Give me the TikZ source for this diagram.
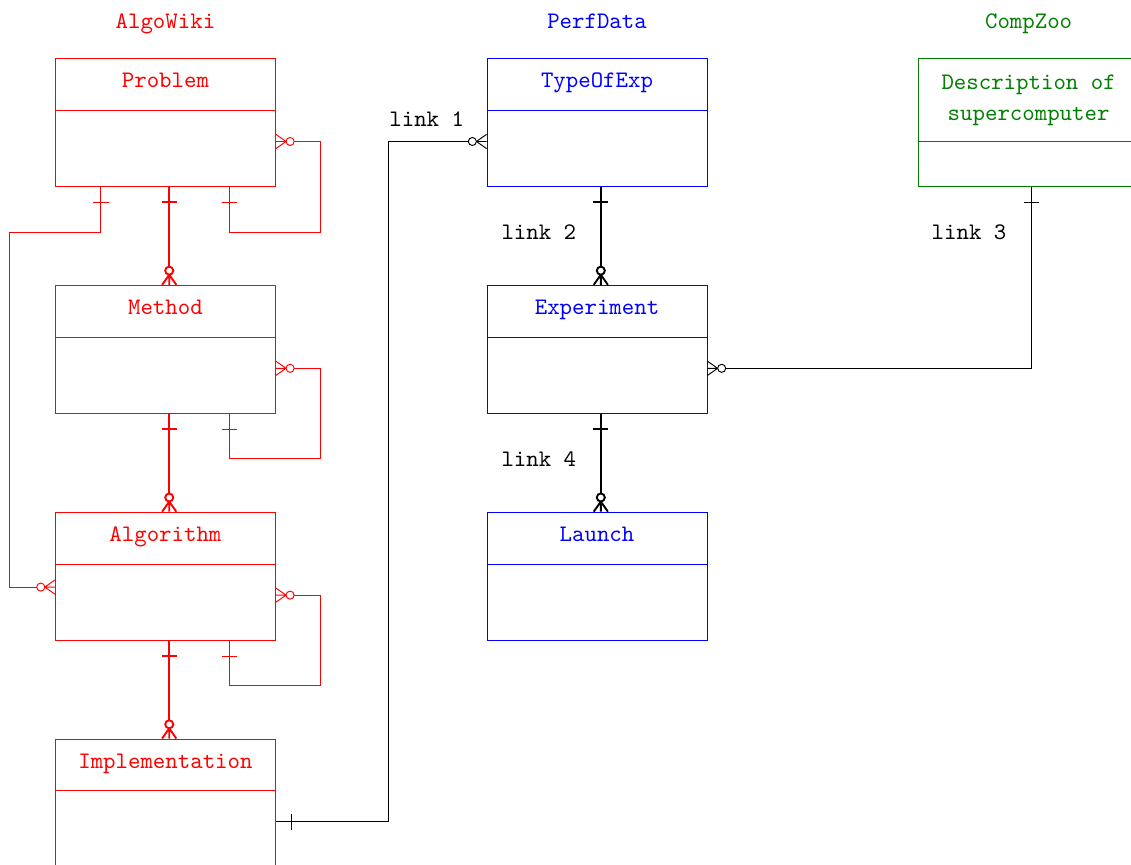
\documentclass[tikz,border=0pt]{standalone}
\usetikzlibrary{positioning}

% ER ends: a bar for "one", a circle and crow's foot for "many"
\pgfdeclarearrow{
  name = erone,
  parameters = {\the\pgflinewidth},
  setup code = {
    \pgfarrowssettipend{0pt}
    \pgfarrowssetbackend{-7pt}
    \pgfarrowssetlineend{0pt}
    \pgfarrowsupperhullpoint{0pt}{3.2pt}
    \pgfarrowsupperhullpoint{-7pt}{3.2pt}
  },
  drawing code = {
    \pgfpathmoveto{\pgfpoint{-6.5pt}{3.2pt}}
    \pgfpathlineto{\pgfpoint{-6.5pt}{-3.2pt}}
    \pgfusepathqstroke
  }
}
\pgfdeclarearrow{
  name = ermany,
  parameters = {\the\pgflinewidth},
  setup code = {
    \pgfarrowssettipend{0pt}
    \pgfarrowssetbackend{-7.7pt}
    \pgfarrowssetlineend{-7.7pt}
    \pgfarrowsupperhullpoint{0pt}{3pt}
    \pgfarrowsupperhullpoint{-7.7pt}{1.7pt}
  },
  drawing code = {
    \pgfpathmoveto{\pgfpoint{0pt}{3pt}}
    \pgfpathlineto{\pgfpoint{-4.3pt}{0pt}}
    \pgfpathlineto{\pgfpoint{0pt}{-3pt}}
    \pgfpathmoveto{\pgfpoint{-4.3pt}{0pt}}
    \pgfpathlineto{\pgfpointorigin}
    \pgfusepathqstroke
    \pgfsetfillcolor{white}
    \pgfpathcircle{\pgfpoint{-6pt}{0pt}}{1.7pt}
    \pgfusepathqfillstroke
  }
}

\tikzset{
  entity/.style={draw, minimum width=92.8pt, minimum height=54pt, inner sep=0pt},
  head/.style={draw, anchor=north, minimum width=92.8pt, inner sep=0pt,
               text height=12.3pt, text depth=9.6pt},
  group/.style={anchor=base},
  linklabel/.style={inner sep=0pt},
}

\begin{document}
\begin{tikzpicture}[node distance=41.3pt and 88.9pt,
                    every node/.style={font=\ttfamily}]
  \useasboundingbox (0,0) rectangle (477.2pt,-364.6pt);

  % AlgoWiki
  \node[entity, red, anchor=north west] (problem) at (23.2pt,-24.5pt) {};
  \node[entity, red, below=of problem] (method) {};
  \node[entity, red, below=of method] (algorithm) {};
  \node[entity, red, below=of algorithm] (implementation) {};
  % PerfData
  \node[entity, blue, right=of problem] (typeofexp) {};
  \node[entity, blue, below=of typeofexp] (experiment) {};
  \node[entity, blue, below=of experiment] (launch) {};
  % CompZoo
  \node[entity, green!50!black, right=of typeofexp] (supercomp) {};

  \foreach \n/\t/\c in {problem/Problem/red, method/Method/red,
                        algorithm/Algorithm/red, implementation/Implementation/red,
                        typeofexp/TypeOfExp/blue, experiment/Experiment/blue,
                        launch/Launch/blue}
    \node[head, \c] (\n head) at (\n.north) {\t};
  \node[draw, anchor=north, minimum width=92.8pt, minimum height=35pt, inner sep=0pt,
        align=center, green!50!black] (supercomphead) at (supercomp.north)
        {Description of\\[1pt]supercomputer};

  \node[group, red] (algowiki) at ([yshift=12.6pt]problem.north) {AlgoWiki};
  \node[group, blue] (perfdata) at ([yshift=12.6pt]typeofexp.north) {PerfData};
  \node[group, green!50!black] (compzoo) at ([yshift=12.6pt]supercomp.north) {CompZoo};

  % links inside AlgoWiki
  \foreach \a/\b in {problem/method, method/algorithm, algorithm/implementation}
    \draw[red, thick, erone-ermany] ([xshift=1.6pt]\a.south) -- ([xshift=1.6pt]\b.north);
  \foreach \e in {problem, method, algorithm}
    \draw[red, ermany-erone] ([yshift=-8pt]\e.east) -- ++(19pt,0)
      |- ([xshift=-19.4pt,yshift=-19pt]\e.south east) -- ([xshift=-19.4pt]\e.south east);
  \draw[red, erone-ermany] ([xshift=19.4pt]problem.south west) -- ++(0,-19pt)
    -| ([xshift=-19pt,yshift=-4.6pt]algorithm.west) -- ([yshift=-4.6pt]algorithm.west);

  % links inside PerfData
  \draw[thick, erone-ermany] ([xshift=1.6pt]typeofexp.south)
    -- node[linklabel, pos=0.536, anchor=base east, xshift=-10pt] {link 2}
    ([xshift=1.6pt]experiment.north);
  \draw[thick, erone-ermany] ([xshift=1.6pt]experiment.south)
    -- node[linklabel, pos=0.54, anchor=base east, xshift=-10pt] {link 4}
    ([xshift=1.6pt]launch.north);

  % links between the databases
  \draw[erone-ermany] ([yshift=-8pt]implementation.east) -- ++(47.7pt,0)
    |- node[linklabel, pos=0.5, anchor=base west, yshift=6.3pt] {link 1}
    ([yshift=-8pt]typeofexp.west);
  \draw[erone-ermany] ([xshift=1.3pt]supercomp.south)
    |- node[linklabel, pos=0.146, anchor=base east, xshift=-10.5pt] {link 3}
    ([yshift=-8pt]experiment.east);
\end{tikzpicture}
\end{document}
